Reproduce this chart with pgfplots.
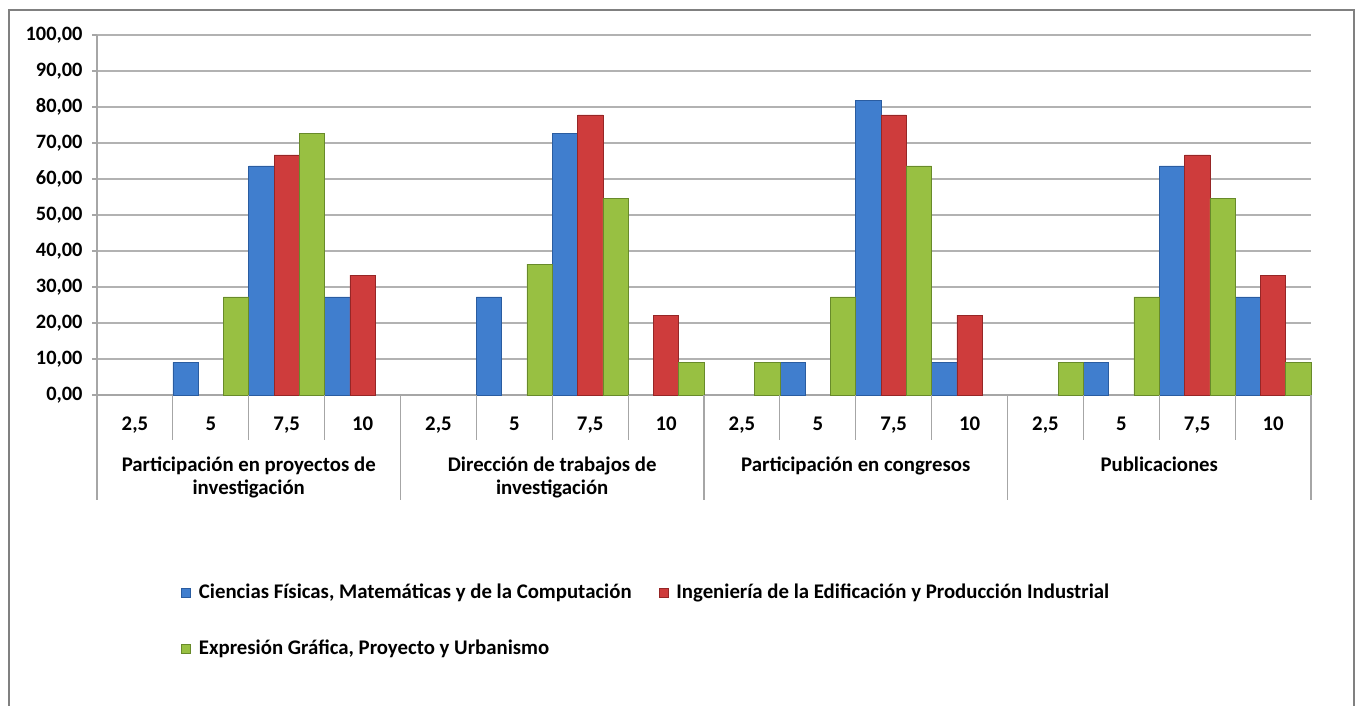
\documentclass[border=0pt]{standalone}
\usepackage{fontspec}
\setmainfont{Carlito}
\usepackage{pgfplots}
\pgfplotsset{compat=1.18}
\definecolor{blC}{RGB}{64,126,206}
\definecolor{blE}{RGB}{42,92,160}
\definecolor{rdC}{RGB}{206,60,60}
\definecolor{rdE}{RGB}{150,38,38}
\definecolor{grC}{RGB}{152,192,66}
\definecolor{grE}{RGB}{104,138,42}
\begin{document}
\fontsize{10}{12}\selectfont\bfseries
\begin{tikzpicture}
\begin{scope}[x=0.5pt,y=-0.5pt]
\path[use as bounding box] (0,0) rectangle (1357,706);
\draw[black!50, line width=1.1pt] (9,706) -- (9,10) -- (1354,10) -- (1354,706);
\end{scope}
\begin{axis}[
  at={(48.5pt,-197.5pt)}, anchor=south west,
  width=607pt, height=180pt, scale only axis,
  xmin=-0.5, xmax=15.5, ymin=0, ymax=100,
  ybar=0pt, bar width=0.3333,
  clip=false,
  axis y line*=left, axis x line*=bottom,
  axis line style={black!35, line width=0.6pt, -},
  ymajorgrids, grid style={black!30, line width=0.6pt},
  ytick={0,10,...,100},
  xtick={0,...,15},
  xticklabels={{2,5},5,{7,5},10,{2,5},5,{7,5},10,{2,5},5,{7,5},10,{2,5},5,{7,5},10},
  x tick style={draw=none},
  y tick style={black!35, line width=0.6pt},
  tick align=outside, major tick length=2.5pt,
  xticklabel style={anchor=base, yshift=-15pt, font=\fontsize{10.4}{12}\selectfont\bfseries},
  yticklabel style={font=\fontsize{10.2}{12}\selectfont\bfseries, xshift=-1.2pt},
  /pgf/number format/.cd, fixed, fixed zerofill, precision=2, use comma, assume math mode=true,
  /pgfplots/.cd,
  legend columns=2,
  legend cell align=left,
  legend style={at={(0.069,-0.512)}, anchor=north west, draw=none, fill=none,
    inner sep=0pt, row sep=15.5pt,
    font=\fontsize{10.4}{12}\selectfont\bfseries,
    /tikz/every even column/.append style={column sep=11.5pt},
    /tikz/every odd column/.append style={column sep=2pt}},
  legend image code/.code={\fill[#1] (0pt,-2.3pt) rectangle (4.6pt,2.3pt);},
]
\addplot[draw=blE, line width=0.3pt, fill=blC]
  coordinates {(1,9.09) (2,63.64) (3,27.27) (5,27.27) (6,72.73) (9,9.09) (10,81.82) (11,9.09) (13,9.09) (14,63.64) (15,27.27)};
\addlegendentry{Ciencias Físicas, Matemáticas y de la Computación}
\addplot[draw=rdE, line width=0.3pt, fill=rdC]
  coordinates {(2,66.67) (3,33.33) (6,77.78) (7,22.22) (10,77.78) (11,22.22) (14,66.67) (15,33.33)};
\addlegendentry{Ingeniería de la Edificación y Producción Industrial}
\addplot[draw=grE, line width=0.3pt, fill=grC]
  coordinates {(1,27.27) (2,72.73) (5,36.36) (6,54.55) (7,9.09) (8,9.09) (9,27.27) (10,63.64) (12,9.09) (13,27.27) (14,54.55) (15,9.09)};
\addlegendentry{Expresión Gráfica, Proyecto y Urbanismo}
\pgfplotsinvokeforeach{0.5,1.5,2.5,4.5,5.5,6.5,8.5,9.5,10.5,12.5,13.5,14.5}{
  \draw[black!35, line width=0.6pt] (axis cs:#1,0) -- ++(0pt,-22.5pt);
}
\pgfplotsinvokeforeach{-0.5,3.5,7.5,11.5,15.5}{
  \draw[black!35, line width=0.6pt] (axis cs:#1,0) -- ++(0pt,-52.5pt);
}
\node[anchor=north, align=center, inner sep=0pt, font=\fontsize{10.4}{11.5}\selectfont\bfseries] at ([yshift=-30.5pt]axis cs:1.5,0) {Participación en proyectos de\\investigación};
\node[anchor=north, align=center, inner sep=0pt, font=\fontsize{10.4}{11.5}\selectfont\bfseries] at ([yshift=-30.5pt]axis cs:5.5,0) {Dirección de trabajos de\\investigación};
\node[anchor=north, align=center, inner sep=0pt, font=\fontsize{10.4}{11.5}\selectfont\bfseries] at ([yshift=-30.5pt]axis cs:9.5,0) {Participación en congresos};
\node[anchor=north, align=center, inner sep=0pt, font=\fontsize{10.4}{11.5}\selectfont\bfseries] at ([yshift=-30.5pt]axis cs:13.5,0) {Publicaciones};
\end{axis}
\end{tikzpicture}
\end{document}
